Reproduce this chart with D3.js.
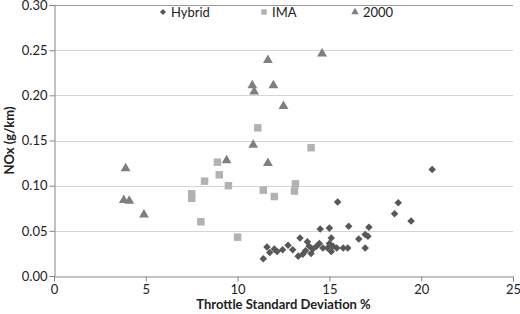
<!DOCTYPE html>
<html>
<head>
<meta charset="utf-8">
<script src="https://cdn.jsdelivr.net/npm/d3@7"></script>
<style>
  body { margin: 0; background: #fff; }
  text { font-family: Lato, "Open Sans", sans-serif; fill: #222; }
  .tick text { font-size: 13px; }
  .axis-title { font-size: 13px; font-weight: bold; }
  .legend text { font-size: 13px; }
</style>
</head>
<body>
<svg id="chart" width="520" height="314"></svg>
<script>
let svg = d3.select("#chart")
let width = 520, height = 314

// series values: [throttle std dev %, NOx g/km]
let hybrid = [
  [11.4, 0.019], [11.6, 0.032], [11.75, 0.026], [12.0, 0.030], [12.15, 0.027],
  [12.45, 0.029], [12.75, 0.034], [13.0, 0.029], [13.3, 0.022], [13.4, 0.042],
  [13.55, 0.024], [13.7, 0.028], [13.8, 0.038], [13.9, 0.033], [14.0, 0.025],
  [14.1, 0.030], [14.3, 0.033], [14.45, 0.036], [14.5, 0.052], [14.65, 0.031],
  [14.9, 0.031], [15.0, 0.053], [15.0, 0.036], [15.1, 0.042], [15.1, 0.027],
  [15.2, 0.033], [15.4, 0.031], [15.45, 0.082], [15.75, 0.031], [16.0, 0.031],
  [16.05, 0.055], [16.6, 0.041], [16.95, 0.046], [16.95, 0.031], [17.1, 0.044],
  [17.15, 0.054], [18.55, 0.069], [18.75, 0.081], [19.45, 0.061], [20.6, 0.118]
]

let ima = [
  [7.5, 0.091], [7.5, 0.086], [8.0, 0.060], [8.2, 0.105], [8.9, 0.126],
  [9.0, 0.112], [9.5, 0.100], [10.0, 0.043], [11.1, 0.164], [11.4, 0.095],
  [12.0, 0.088], [13.15, 0.102], [13.1, 0.094], [14.0, 0.142]
]

let y2000 = [
  [3.9, 0.119], [3.8, 0.084], [4.1, 0.083], [4.9, 0.068], [9.4, 0.128],
  [10.8, 0.211], [10.9, 0.204], [10.85, 0.145], [11.65, 0.239], [11.65, 0.125],
  [11.95, 0.211], [12.5, 0.188], [14.6, 0.246]
]

let seriesNames = ["Hybrid", "IMA", "2000"]
let xTicks = [0, 5, 10, 15, 20, 25]
let yTicks = [0, 0.05, 0.10, 0.15, 0.20, 0.25, 0.30]

let margin = { top: 5, right: 7, bottom: 38, left: 54 }

let x = d3.scaleLinear()
    .domain([0, 25])
    .range([margin.left, width - margin.right])

let y = d3.scaleLinear()
    .domain([0, 0.3])
    .range([height - margin.bottom, margin.top])

// gridlines
svg.append("g")
  .selectAll("line")
  .data(yTicks.filter(d => d > 0))
  .join("line")
  .attr("x1", x(0))
  .attr("x2", x(25))
  .attr("y1", d => Math.round(y(d)) + 0.5)
  .attr("y2", d => Math.round(y(d)) + 0.5)
  .attr("stroke", d => d == 0.3 ? "#9a9a9a" : "#d4d4d4")
  .attr("stroke-width", 1)

let xAxis = svg.append("g")
    .attr("transform", `translate(0,${Math.round(y(0)) + 0.5})`)
    .call(d3.axisBottom(x).tickValues(xTicks).tickSize(5).tickPadding(3).tickFormat(d3.format("d")))

let yAxis = svg.append("g")
    .attr("transform", `translate(${Math.round(x(0)) + 0.5},0)`)
    .call(d3.axisLeft(y).tickValues(yTicks).tickSize(5).tickPadding(2).tickFormat(d3.format(".2f")))

svg.selectAll(".domain").attr("stroke", "#868686")
svg.selectAll(".tick line").attr("stroke", "#868686")
svg.selectAll(".tick text").style("font-family", "Lato, sans-serif").attr("fill", "#222")

// axis titles
svg.append("text")
  .attr("class", "axis-title")
  .attr("x", (x(0) + x(25)) / 2)
  .attr("y", 309)
  .attr("text-anchor", "middle")
  .text("Throttle Standard Deviation %")

svg.append("text")
  .attr("class", "axis-title")
  .attr("transform", `translate(14,${(y(0) + y(0.3)) / 2}) rotate(-90)`)
  .attr("text-anchor", "middle")
  .text("NOx (g/km)")

// markers
let colors = { "Hybrid": "#58585a", "IMA": "#b2b2b2", "2000": "#7f7f7f" }
let shapes = { "Hybrid": d3.symbolDiamond2, "IMA": d3.symbolSquare, "2000": d3.symbolTriangle }
let sizes = { "Hybrid": 36, "IMA": 56, "2000": 42 }

function plot(data, name) {
  let sym = d3.symbol().type(shapes[name]).size(sizes[name])
  svg.append("g")
    .selectAll("path")
    .data(data)
    .join("path")
    .attr("transform", d => `translate(${x(d[0])},${y(d[1])})`)
    .attr("d", sym)
    .attr("fill", colors[name])
}

plot(ima, "IMA")
plot(y2000, "2000")
plot(hybrid, "Hybrid")

// legend
let legendX = [163, 264, 355]
let legend = svg.append("g").attr("class", "legend")
seriesNames.forEach((name, i) => {
  legend.append("path")
    .attr("transform", `translate(${legendX[i]},12)`)
    .attr("d", d3.symbol().type(shapes[name]).size(name == "IMA" ? 30 : 24))
    .attr("fill", colors[name])
  legend.append("text")
    .attr("x", legendX[i] + 8)
    .attr("y", 16.5)
    .text(name)
})
</script>
</body>
</html>
